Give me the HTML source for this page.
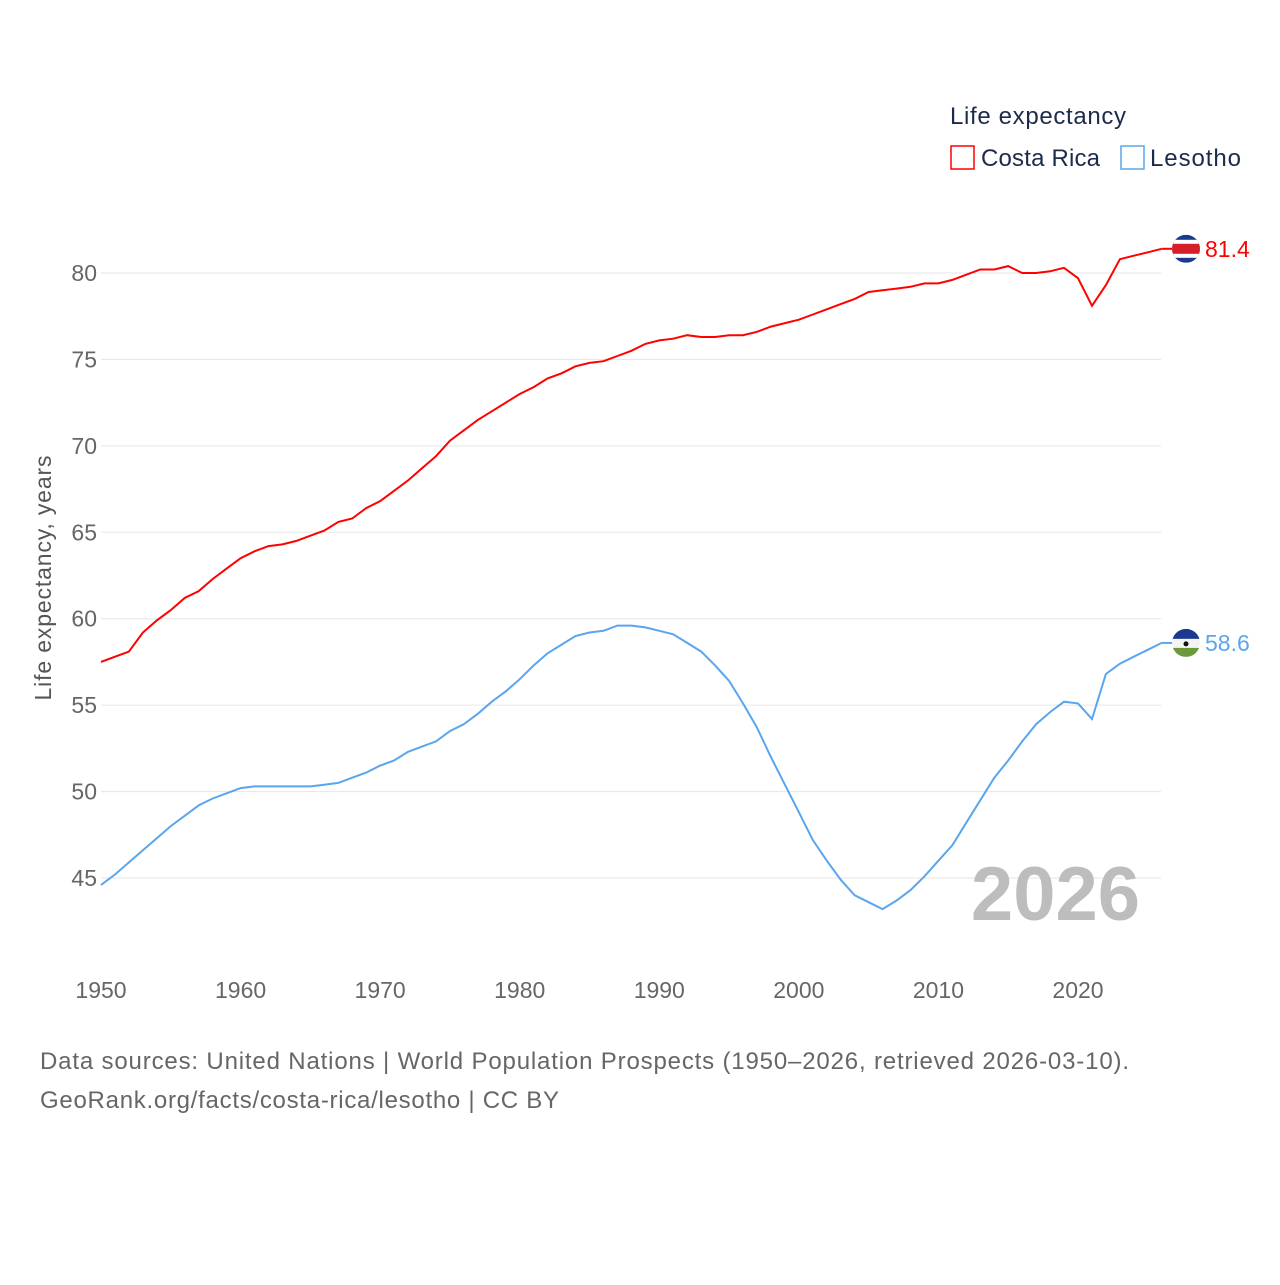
<!DOCTYPE html>
<html><head><meta charset="utf-8"><style>
body{margin:0;background:#fff;font-family:"Liberation Sans",sans-serif}
svg text{font-family:"Liberation Sans",sans-serif}
</style></head><body>
<svg width="1280" height="1280" viewBox="0 0 1280 1280">
<g id="grid"></g><g id="yticks"></g><g id="xticks"></g><g id="lines"></g>
<text x="51" y="578" transform="rotate(-90 51 578)" text-anchor="middle" font-size="23" fill="#555" textLength="245">Life expectancy, years</text>
<g>
<text x="950" y="124" font-size="24" fill="#1d2b4a" textLength="176">Life expectancy</text>
<rect x="951" y="146" width="23" height="23" fill="none" stroke="#ff0000" stroke-width="1.5"/>
<text x="981" y="166" font-size="24" fill="#1d2b4a" textLength="119">Costa Rica</text>
<rect x="1121" y="146" width="23" height="23" fill="none" stroke="#5aa5ee" stroke-width="1.5"/>
<text x="1150" y="166" font-size="24" fill="#1d2b4a" textLength="91">Lesotho</text>
</g>
<text x="1140" y="920" text-anchor="end" font-size="76" font-weight="bold" fill="#bdbdbd">2026</text>
<g id="ends"></g>
<text x="40" y="1069" font-size="24" fill="#666" textLength="1089">Data sources: United Nations | World Population Prospects (1950–2026, retrieved 2026-03-10).</text>
<text x="40" y="1108" font-size="24" fill="#666" textLength="519">GeoRank.org/facts/costa-rica/lesotho | CC BY</text>
</svg>
<script>
const startYear=1950;
const costaRica=[57.5,57.8,58.1,59.2,59.9,60.5,61.2,61.6,62.3,62.9,63.5,63.9,64.2,64.3,64.5,64.8,65.1,65.6,65.8,66.4,66.8,67.4,68.0,68.7,69.4,70.3,70.9,71.5,72.0,72.5,73.0,73.4,73.9,74.2,74.6,74.8,74.9,75.2,75.5,75.9,76.1,76.2,76.4,76.3,76.3,76.4,76.4,76.6,76.9,77.1,77.3,77.6,77.9,78.2,78.5,78.9,79.0,79.1,79.2,79.4,79.4,79.6,79.9,80.2,80.2,80.4,80.0,80.0,80.1,80.3,79.7,78.1,79.3,80.8,81.0,81.2,81.4];
const lesotho=[44.6,45.2,45.9,46.6,47.3,48.0,48.6,49.2,49.6,49.9,50.2,50.3,50.3,50.3,50.3,50.3,50.4,50.5,50.8,51.1,51.5,51.8,52.3,52.6,52.9,53.5,53.9,54.5,55.2,55.8,56.5,57.3,58.0,58.5,59.0,59.2,59.3,59.6,59.6,59.5,59.3,59.1,58.6,58.1,57.3,56.4,55.1,53.7,52.0,50.4,48.8,47.2,46.0,44.9,44.0,43.6,43.2,43.7,44.3,45.1,46.0,46.9,48.2,49.5,50.8,51.8,52.9,53.9,54.6,55.2,55.1,54.2,56.8,57.4,57.8,58.2,58.6];
const yTicks=[45,50,55,60,65,70,75,80];
const xTicks=[1950,1960,1970,1980,1990,2000,2010,2020];
const NS="http://www.w3.org/2000/svg";
const X=y=>101+(y-1950)*977/70;
const Y=v=>878-(v-45)*605/35;
function mk(t,a,p){const e=document.createElementNS(NS,t);for(const k in a)e.setAttribute(k,a[k]);document.getElementById(p).appendChild(e);return e;}
yTicks.forEach(v=>{
 const l=mk('line',{x1:101,x2:1161,y1:Y(v),y2:Y(v),stroke:'#e6e6e6','stroke-width':1},'grid');
 
 
 const t=mk('text',{x:97,y:Y(v)+8,'text-anchor':'end','font-size':23,fill:'#666'},'yticks');t.textContent=v;
 
 
});
xTicks.forEach(v=>{
 const t=mk('text',{x:X(v),y:998,'text-anchor':'middle','font-size':23,fill:'#666'},'xticks');t.textContent=v;
 
 
});
function series(arr,color,name,flag){
 const d=arr.map((v,i)=>(i?'L':'M')+X(startYear+i).toFixed(1)+','+Y(v).toFixed(1)).join('');
 const p=mk('path',{d:d,fill:'none',stroke:color,'stroke-width':2},'lines');
 
 
 const last=arr[arr.length-1],ly=Y(last);
 const l=mk('line',{x1:X(startYear+arr.length-1),x2:1175,y1:ly,y2:ly,stroke:color,'stroke-width':2},'ends');
 
 
 flag(ly);
 const t=mk('text',{x:1205,y:ly+8,'font-size':23,fill:color},'ends');t.textContent=last.toFixed(1);
 
 
}
series(costaRica,'#ff0000','costa-rica',ly=>{
 const cp=mk('clipPath',{id:'c1'},'ends');const c=document.createElementNS(NS,'circle');c.setAttribute('cx',1186);c.setAttribute('cy',ly);c.setAttribute('r',14);cp.appendChild(c);
 [['#1a3a8f',-14,28],['#fff',-9,18],['#d5202a',-5,10]].forEach(([f,o,h])=>{mk('rect',{x:1172,y:ly+o,width:28,height:h,fill:f,'clip-path':'url(#c1)'},'ends');});
});
series(lesotho,'#5aa5ee','lesotho',ly=>{
 const cp=mk('clipPath',{id:'c2'},'ends');const c=document.createElementNS(NS,'circle');c.setAttribute('cx',1186);c.setAttribute('cy',ly);c.setAttribute('r',14);cp.appendChild(c);
 [['#1a3a8f',-14,10],['#f4f4f4',-4,9],['#6a9a3a',5,9]].forEach(([f,o,h])=>{mk('rect',{x:1172,y:ly+o,width:28,height:h,fill:f,'clip-path':'url(#c2)'},'ends');});
 mk('circle',{cx:1186,cy:ly+1,r:2.5,fill:'#111'},'ends');
});
</script>
</body></html>
